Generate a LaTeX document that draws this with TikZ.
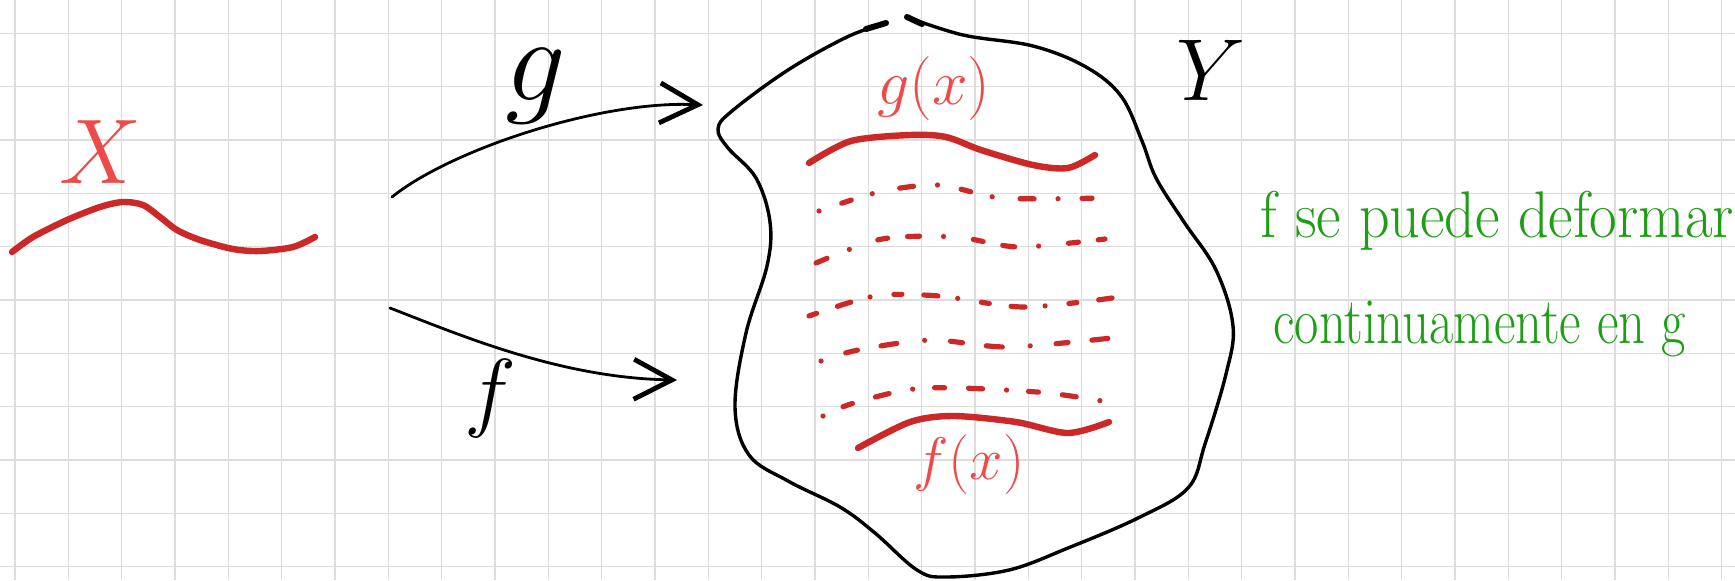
\RequirePackage{fix-cm}
\documentclass[tikz,border=0pt]{standalone}
\usepackage{fontspec}
\usepackage{amsmath}
\usepackage{graphicx}
\usepackage{tikz}
\usetikzlibrary{arrows.meta}
\definecolor{inkred}{RGB}{204,40,40}
\definecolor{labelred}{RGB}{238,74,74}
\definecolor{inkgreen}{RGB}{30,158,20}
\definecolor{gridgray}{RGB}{221,221,221}

\begin{document}
\begin{tikzpicture}[x=0.5pt,y=-0.5pt,
  gridline/.style={draw=gridgray,line width=0.8pt},
  redstroke/.style={draw=inkred,line width=3.2pt,line cap=round},
  smear/.style={draw=inkred,line width=2.6pt,line cap=round},
  maparrow/.style={draw,line width=1.4pt,line cap=round,
    -{Straight Barb[length=19pt,width=20pt,line width=2.4pt]}},
  redlabel/.style={text=labelred,inner sep=0pt},
  inklabel/.style={text=black,inner sep=0pt},
  note/.style={text=inkgreen,inner sep=0pt,anchor=base west,
    font=\fontsize{33}{33}\selectfont}]

  \fill[white] (0,0) rectangle (1735,580);
  \useasboundingbox (0,0) rectangle (1735,580);
  % squared paper
  \foreach \i in {0,...,32}
    \draw[gridline] ({15+53.333*\i},0) -- ({15+53.333*\i},580);
  \foreach \j in {0,...,10}
    \draw[gridline] (0,{33.333+53.333*\j}) -- (1735,{33.333+53.333*\j});

  % the curve X
  \draw[redstroke] plot[smooth] coordinates {(12,252) (33,237) (67,220)
    (100,207) (123,202) (143,205) (160,217) (177,230) (200,240) (233,249)
    (260,251) (293,247) (315,237)};
  \node[redlabel,font=\fontsize{46}{46}\selectfont] (lblX) at (100,152) {$X$};

  % the space Y
  \draw[line width=1.7pt,line cap=round] plot[smooth,tension=0.6] coordinates {
    (907,17) (963,35) (1033,46) (1086,67) (1121,96) (1142,141) (1156,178)
    (1184,222) (1216,270) (1233,326) (1226,374) (1205,444) (1188,488)
    (1138,518) (1068,548) (1009,570) (946,577) (917,570) (875,533) (840,507)
    (788,481) (749,455) (735,407) (746,333) (767,266) (770,222) (756,178)
    (728,148) (718,129) (732,111) (788,70) (847,37) (886,23)};
  \draw[line width=3pt,line cap=round] (866,29) -- (886,23);
  \draw[line width=3pt,line cap=round] (907,17) -- (922,24);
  \node[inklabel,font=\fontsize{44}{44}\selectfont] (lblY) at (1211,70) {$Y$};

  % g(x) and f(x)
  \draw[redstroke] plot[smooth] coordinates {(809,163) (851,141) (910,135)
    (946,137) (981,150) (1033,165) (1068,168) (1095,155)};
  \node[redlabel,font=\fontsize{32}{32}\selectfont] (lblgx) at (934,88) {$g(x)$};
  \draw[redstroke] plot[smooth] coordinates {(858,448) (910,422) (953,416)
    (1016,422) (1068,433) (1109,422)};
  \node[redlabel,font=\fontsize{30}{30}\selectfont] (lblfx) at (969,464) {$f(x)$};

  % intermediate curves
  \draw[smear,dash pattern=on 0pt off 12pt on 5pt off 11pt on 0pt off 14pt on 7pt off 12pt]
    plot[smooth] coordinates {(819,211) (879,192) (939,185) (1002,198) (1103,198)};
  \draw[smear,dash pattern=on 6pt off 12pt on 0pt off 15pt on 5pt off 10pt]
    plot[smooth] coordinates {(816,263) (882,239) (956,237) (1019,247) (1105,239)};
  \draw[smear,dash pattern=on 4pt off 11pt on 7pt off 10pt on 0pt off 12pt]
    plot[smooth] coordinates {(809,316) (875,296) (939,296) (1023,307) (1112,298)};
  \draw[smear,dash pattern=on 0pt off 13pt on 6pt off 12pt on 8pt off 14pt]
    plot[smooth] coordinates {(821,361) (858,350) (931,340) (1009,347) (1121,337)};
  \draw[smear,dash pattern=on 0pt off 11pt on 5pt off 12pt on 7pt off 12pt]
    plot[smooth] coordinates {(823,416) (854,403) (924,388) (1037,392) (1102,401)};

  % the two maps
  \coordinate (gfrom) at (392,197);
  \coordinate (gto) at (703,105);
  \draw[maparrow] (gfrom) .. controls (450,150) and (600,100) .. (gto);
  \node[inklabel,font=\fontsize{60}{60}\selectfont] (lblg) at (536,86) {$g$};
  \coordinate (ffrom) at (390,308);
  \coordinate (fto) at (677,380);
  \draw[maparrow] (ffrom) .. controls (460,335) and (560,378) .. (fto);
  \node[inklabel,font=\fontsize{44}{44}\selectfont] (lblf) at (490,398) {$f$};

  % remark
  \node[note] (noteA) at (1260,237) {\scalebox{0.91}[1]{f se puede deformar}};
  \node[note] (noteB) at (1273,343) {\scalebox{0.8}[1]{continuamente en g}};
\end{tikzpicture}
\end{document}
